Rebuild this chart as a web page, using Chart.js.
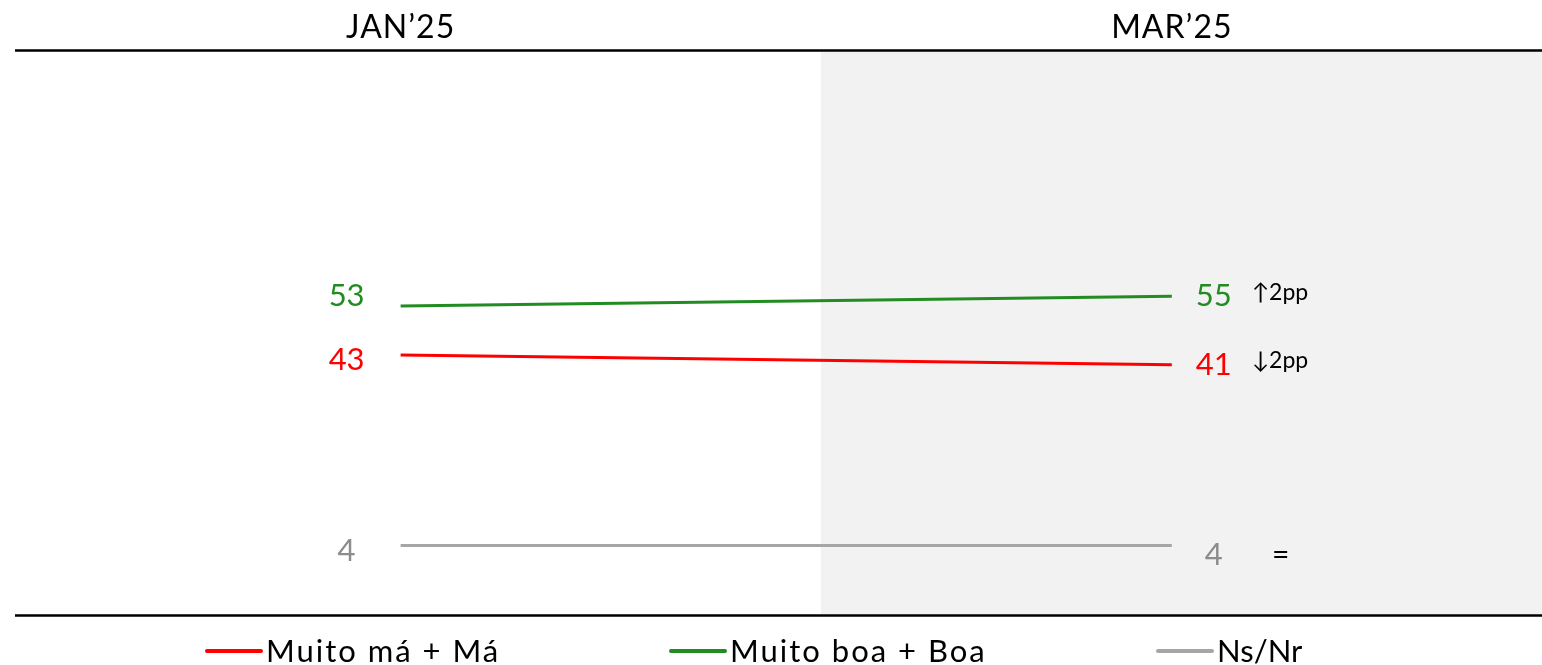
<!DOCTYPE html>
<html>
<head>
<meta charset="utf-8">
<script src="https://cdn.jsdelivr.net/npm/chart.js@4.4.1/dist/chart.umd.min.js"></script>
<style>
  html, body { margin: 0; padding: 0; background: #ffffff; }
  #wrap { width: 1542px; height: 665px; }
</style>
</head>
<body>
<div id="wrap"><canvas id="evolution" width="1542" height="665"></canvas></div>
<script>
// waves and series
const periods     = ["JAN’25", "MAR’25"];
const seriesNames = ["Muito má + Má", "Muito boa + Boa", "Ns/Nr"];
const badValues   = [43, 41];
const goodValues  = [53, 55];
const nsnrValues  = [4, 4];

const seriesColors = ["#ff0000", "#228b22", "#a6a6a6"];
const textColors   = ["#ff0000", "#228b22", "#8c8c8c"];
// small vertical nudges for the first-wave labels so they don't collide with the lines
const startNudge   = [5, -10, 5];
const shadeFrom    = 0.545;   // x value where the latest wave's grey panel begins
const FONT = "Lato, 'DejaVu Sans', sans-serif";

const allValues = [badValues, goodValues, nsnrValues];

const datasets = allValues.map((vals, i) => ({
  label: seriesNames[i],
  data: vals.map((v, k) => ({ x: k, y: v })),
  borderColor: seriesColors[i],
  backgroundColor: seriesColors[i],
  borderWidth: 3,
  pointRadius: 0,
  tension: 0
}));

const decorations = {
  id: "decorations",
  beforeDatasetsDraw(chart) {
    const { ctx, chartArea, scales } = chart;
    const xs = scales.x;
    ctx.save();
    // grey panel behind the latest wave
    const sx = xs.getPixelForValue(shadeFrom);
    ctx.fillStyle = "#f2f2f2";
    ctx.fillRect(sx, chartArea.top, chartArea.right - sx, chartArea.bottom - chartArea.top);
    // top and bottom rules
    ctx.strokeStyle = "#000000";
    ctx.lineWidth = 2.5;
    ctx.beginPath();
    ctx.moveTo(chartArea.left, chartArea.top - 1.5);
    ctx.lineTo(chartArea.right, chartArea.top - 1.5);
    ctx.moveTo(chartArea.left, chartArea.bottom + 1.5);
    ctx.lineTo(chartArea.right, chartArea.bottom + 1.5);
    ctx.stroke();
    ctx.restore();
  },
  afterDatasetsDraw(chart) {
    const { ctx, scales } = chart;
    const xs = scales.x, ys = scales.y;
    ctx.save();
    ctx.textBaseline = "middle";

    // wave headers above the top rule
    ctx.fillStyle = "#000000";
    ctx.textAlign = "center";
    ctx.font = "32px " + FONT;
    ctx.letterSpacing = "1px";
    periods.forEach((p, k) => ctx.fillText(p, xs.getPixelForValue(k), 28));
    ctx.letterSpacing = "0px";

    const last = periods.length - 1;
    allValues.forEach((vals, i) => {
      ctx.fillStyle = textColors[i];
      ctx.font = "31px " + FONT;
      ctx.textAlign = "center";
      const x0 = xs.getPixelForValue(0) - 54;
      ctx.fillText(String(vals[0]), x0, ys.getPixelForValue(vals[0]) + startNudge[i]);
      const x1 = xs.getPixelForValue(last) + 42;
      const y1 = ys.getPixelForValue(vals[last]);
      ctx.fillText(String(vals[last]), x1, y1 + (i === 2 ? 9 : 0));

      // change versus the previous wave
      const diff = vals[last] - vals[0];
      ctx.fillStyle = "#000000";
      if (diff === 0) {
        ctx.font = "30px " + FONT;
        ctx.textAlign = "center";
        ctx.fillText("=", x1 + 67, y1 + 10);
      } else {
        ctx.font = "23px " + FONT;
        ctx.textAlign = "left";
        const arrow = diff > 0 ? "↑" : "↓";
        ctx.fillText(arrow + Math.abs(diff) + "pp", x1 + 38, y1 - 4);
      }
    });

    // legend row under the bottom rule
    const legendX = [207, 671, 1158];
    const legendY = 651;
    ctx.textAlign = "left";
    ctx.font = "31px " + FONT;
    seriesNames.forEach((name, i) => {
      ctx.strokeStyle = seriesColors[i];
      ctx.lineWidth = 4;
      ctx.lineCap = "round";
      ctx.beginPath();
      ctx.moveTo(legendX[i], legendY);
      ctx.lineTo(legendX[i] + 54, legendY);
      ctx.stroke();
      ctx.fillStyle = "#000000";
      ctx.letterSpacing = i === 2 ? "0px" : "2px";
      ctx.fillText(name, legendX[i] + 59, legendY + 1);
    });
    ctx.restore();
  }
};

const ctx = document.getElementById("evolution").getContext("2d");
const chart = new Chart(ctx, {
  type: "line",
  data: { datasets: datasets },
  options: {
    responsive: false,
    animation: false,
    layout: { padding: { left: 15, right: 0, top: 52, bottom: 51 } },
    plugins: { legend: { display: false }, tooltip: { enabled: false } },
    scales: {
      x: { type: "linear", min: -0.5, max: 1.48, display: false },
      y: { type: "linear", min: -10, max: 105, display: false }
    }
  },
  plugins: [decorations]
});
</script>
</body>
</html>
